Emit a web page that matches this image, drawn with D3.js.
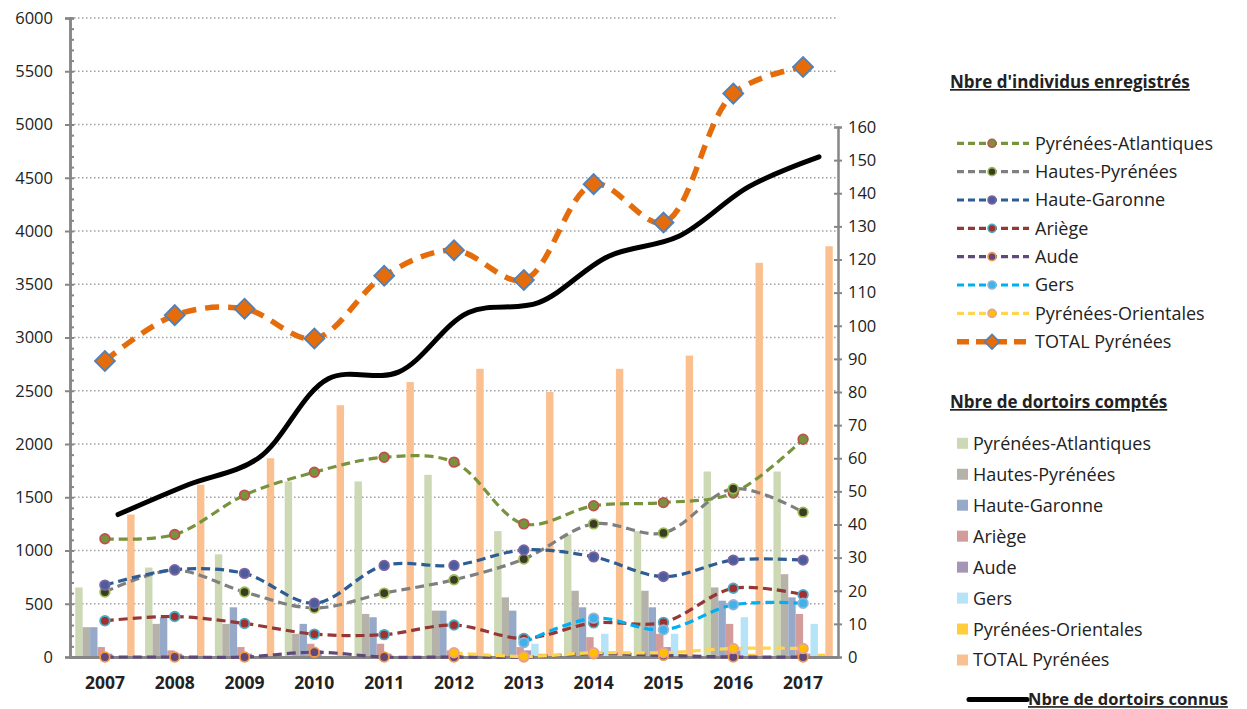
<!DOCTYPE html>
<html><head><meta charset="utf-8">
<script src="https://cdn.jsdelivr.net/npm/d3@7"></script>
<style>body{margin:0;background:#fff} text{font-family:"Open Sans",sans-serif;fill:#222}</style>
</head><body><svg id="c" width="1247" height="709"></svg>
<script>
// ---------- data ----------
const years = [2007,2008,2009,2010,2011,2012,2013,2014,2015,2016,2017];
const leftTicks = [0,500,1000,1500,2000,2500,3000,3500,4000,4500,5000,5500,6000];
const rightTicks = [0,10,20,30,40,50,60,70,80,90,100,110,120,130,140,150,160];

// Nbre d'individus enregistrés (left axis)
const indPA  = [1110,1150,1520,1735,1875,1830,1250,1420,1450,1540,2045];
const indHP  = [610,815,610,460,600,725,920,1250,1165,1580,1360];
const indHG  = [675,820,785,505,860,860,1005,940,755,910,910];
const indAR  = [340,380,315,215,210,300,175,320,325,645,585];
const indAU  = [0,0,0,45,0,0,0,30,15,0,0];
const indGE  = [null,null,null,null,null,null,135,365,255,490,505];
const indPO  = [null,null,null,null,null,40,5,40,40,80,80];
const indTOT = [2780,3210,3270,2990,3580,3820,3540,4440,4080,5290,5540];

// Nbre de dortoirs comptés (right axis)
const dorPA  = [21,27,31,53,53,55,38,37,38,56,56];
const dorHP  = [9,10,10,7,13,14,18,20,20,21,25];
const dorHG  = [9,12,15,10,12,14,14,15,15,17,18];
const dorAR  = [3,2,3,4,4,2,3,6,7,10,13];
const dorAU  = [1,1,1,2,1,1,2,1,3,2,1];
const dorGE  = [0,0,0,0,0,0,4,7,7,12,10];
const dorPO  = [0,0,0,0,0,1,1,1,1,1,1];
const dorTOT = [43,52,60,76,83,87,80,87,91,119,124];

// Nbre de dortoirs connus (right axis)
const dorConnus = [43,52,60,84,86,104,107,121,127,142,151];

const names = ["Pyrénées-Atlantiques","Hautes-Pyrénées","Haute-Garonne","Ariège","Aude","Gers","Pyrénées-Orientales","TOTAL Pyrénées"];

// ---------- styles ----------
const lineSeries = [
  {name:names[0], v:indPA,  stroke:"#77933C", fill:"#77933C", mStroke:"#C0504D"},
  {name:names[1], v:indHP,  stroke:"#7F7F7F", fill:"#3B3B23", mStroke:"#9BBB59"},
  {name:names[2], v:indHG,  stroke:"#2E5C94", fill:"#4A5E9E", mStroke:"#8064A2"},
  {name:names[3], v:indAR,  stroke:"#953735", fill:"#A0312F", mStroke:"#4BACC6"},
  {name:names[4], v:indAU,  stroke:"#5F497A", fill:"#5F497A", mStroke:"#F79646"},
  {name:names[5], v:indGE,  stroke:"#00B0F0", fill:"#3FB2EA", mStroke:"#95B3D7"},
  {name:names[6], v:indPO,  stroke:"#FFD54F", fill:"#FFC000", mStroke:"#E6A09A"},
];
const totalSeries = {name:names[7], v:indTOT, stroke:"#E46C0A", fill:"#E46C0A", mStroke:"#4F81BD"};
const barSeries = [
  {name:names[0], v:dorPA,  c:"#CDD8B5"},
  {name:names[1], v:dorHP,  c:"#B5B2A9"},
  {name:names[2], v:dorHG,  c:"#97A9C8"},
  {name:names[3], v:dorAR,  c:"#D29C9B"},
  {name:names[4], v:dorAU,  c:"#A596B8"},
  {name:names[5], v:dorGE,  c:"#B5E3F7"},
  {name:names[6], v:dorPO,  c:"#FFCE3A"},
  {name:names[7], v:dorTOT, c:"#FAC090"},
];

// ---------- layout ----------
const svg = d3.select("#c");
const P = {l:70, r:838, t:18, b:657, rt:127};
const x0 = d3.scaleBand().domain(years).range([P.l,P.r]).paddingInner(0.15).paddingOuter(0.075);
const x1 = d3.scaleBand().domain(d3.range(barSeries.length)).range([0,x0.bandwidth()]);
const xc = y => x0(y) + x0.bandwidth()/2;
const xk = d3.scalePoint().domain(years).range([P.l+48, P.r-19]);
const yL = d3.scaleLinear().domain([0,6000]).range([P.b,P.t]);
const yR = d3.scaleLinear().domain([0,160]).range([P.b,P.rt]);
const axisCol = "#868686";

// gridlines
svg.append("g").selectAll("line").data(leftTicks.filter(t=>t>0)).join("line")
  .attr("x1",P.l).attr("x2",P.r).attr("y1",d=>yL(d)).attr("y2",d=>yL(d))
  .attr("stroke","#A0A0A0").attr("stroke-width",1.4).attr("stroke-dasharray","1.5,2.5");

// bars
const gb = svg.append("g");
barSeries.forEach((s,i)=>{
  gb.append("g").selectAll("rect").data(years.map((y,j)=>({y,v:s.v[j]}))).join("rect")
    .attr("x",d=>x0(d.y)+x1(i)).attr("width",x1.bandwidth())
    .attr("y",d=>yR(d.v)).attr("height",d=>yR(0)-yR(d.v)).attr("fill",s.c);
});

// left axis
const gl = svg.append("g").attr("transform",`translate(${P.l},0)`);
gl.call(d3.axisLeft(yL).tickValues(d3.range(0,6001,100)).tickSize(-4).tickFormat(""));
gl.append("g").call(d3.axisLeft(yL).tickValues(leftTicks).tickSize(5).tickPadding(12).tickFormat(d3.format("d")));
gl.selectAll("path,line").attr("stroke",axisCol).attr("stroke-width",2);
gl.selectAll("path").attr("stroke-width",2.5);
gl.selectAll("text").attr("font-size",16.5).attr("fill","#222").attr("font-family","Open Sans");

// right axis
const gr = svg.append("g").attr("transform",`translate(${P.r},0)`);
gr.call(d3.axisRight(yR).tickValues(rightTicks).tickSize(4).tickPadding(6).tickFormat(d3.format("d")));
gr.append("g").call(d3.axisLeft(yR).tickValues(rightTicks).tickSize(4).tickFormat(""));
gr.selectAll("path,line").attr("stroke",axisCol).attr("stroke-width",2);
gr.selectAll("text").attr("font-size",16.5).attr("fill","#222").attr("font-family","Open Sans");

// bottom axis
const gx = svg.append("g").attr("transform",`translate(0,${P.b})`);
gx.call(d3.axisBottom(x0).tickSize(0).tickPadding(20));
gx.select("path").attr("stroke",axisCol).attr("stroke-width",3);
gx.selectAll("text").attr("font-size",17.5).attr("font-weight","bold").attr("fill","#111").attr("font-family","Open Sans");

// black line: dortoirs connus
const curve = d3.curveCatmullRom;
svg.append("path").datum(years.map((y,j)=>({y,v:dorConnus[j]})))
  .attr("d",d3.line().x(d=>xk(d.y)).y(d=>yR(d.v)).curve(curve))
  .attr("fill","none").attr("stroke","#000").attr("stroke-width",5).attr("stroke-linecap","round");

// individual lines
function drawLine(s, w, dash, marker){
  const data = years.map((y,j)=>({y,v:s.v[j]}));
  svg.append("path").datum(data)
    .attr("d",d3.line().defined(d=>d.v!=null).x(d=>xc(d.y)).y(d=>yL(d.v)).curve(curve))
    .attr("fill","none").attr("stroke",s.stroke).attr("stroke-width",w).attr("stroke-dasharray",dash);
  const pts = data.filter(d=>d.v!=null);
  if(marker==="diamond"){
    svg.append("g").selectAll("path").data(pts).join("path")
      .attr("d",d3.symbol(d3.symbolSquare,200))
      .attr("transform",d=>`translate(${xc(d.y)},${yL(d.v)}) rotate(45)`)
      .attr("fill",s.fill).attr("stroke",s.mStroke).attr("stroke-width",1.8);
  } else {
    svg.append("g").selectAll("circle").data(pts).join("circle")
      .attr("cx",d=>xc(d.y)).attr("cy",d=>yL(d.v)).attr("r",4.8)
      .attr("fill",s.fill).attr("stroke",s.mStroke).attr("stroke-width",1.8);
  }
}
lineSeries.forEach(s=>drawLine(s,3.2,"9,5","circle"));
drawLine(totalSeries,5.5,"14,9","diamond");

// ---------- legends ----------
const lg = svg.append("g");
lg.append("text").attr("x",950).attr("y",88).text("Nbre d'individus enregistrés")
  .attr("font-size",17).attr("font-weight","bold").style("text-decoration","underline");
const rowsL = d3.scaleLinear().domain([0,7]).range([143.3,341.7]);
[...lineSeries,totalSeries].forEach((s,i)=>{
  const g = lg.append("g").attr("transform",`translate(0,${rowsL(i)})`);
  const isT = i===7;
  g.append("line").attr("x1",957).attr("x2",1029).attr("y1",0).attr("y2",0)
    .attr("stroke",s.stroke).attr("stroke-width",isT?5.5:3.2).attr("stroke-dasharray",isT?"12,7":"7,4");
  if(isT){
    g.append("path").attr("d",d3.symbol(d3.symbolSquare,110)).attr("transform","translate(992,0) rotate(45)")
      .attr("fill",s.fill).attr("stroke",s.mStroke).attr("stroke-width",1.6);
  } else {
    g.append("circle").attr("cx",992).attr("cy",0).attr("r",4).attr("fill",s.fill).attr("stroke",s.mStroke).attr("stroke-width",1.6);
  }
  g.append("text").attr("x",1035).attr("y",0).attr("dy","0.36em").attr("font-size",18).text(s.name);
});

lg.append("text").attr("x",950).attr("y",408).text("Nbre de dortoirs comptés")
  .attr("font-size",17).attr("font-weight","bold").style("text-decoration","underline");
const rowsB = d3.scaleLinear().domain([0,7]).range([443.3,660]);
barSeries.forEach((s,i)=>{
  const g = lg.append("g").attr("transform",`translate(0,${rowsB(i)})`);
  g.append("rect").attr("x",957).attr("y",-5.5).attr("width",11).attr("height",11).attr("fill",s.c);
  g.append("text").attr("x",973).attr("y",0).attr("dy","0.36em").attr("font-size",18).text(s.name);
});

lg.append("line").attr("x1",969).attr("x2",1027).attr("y1",699.5).attr("y2",699.5)
  .attr("stroke","#000").attr("stroke-width",5).attr("stroke-linecap","round");
lg.append("text").attr("x",1028).attr("y",699.5).attr("dy","0.34em").text("Nbre de dortoirs connus")
  .attr("font-size",16.5).attr("font-weight","bold").style("text-decoration","underline");
</script></body></html>
